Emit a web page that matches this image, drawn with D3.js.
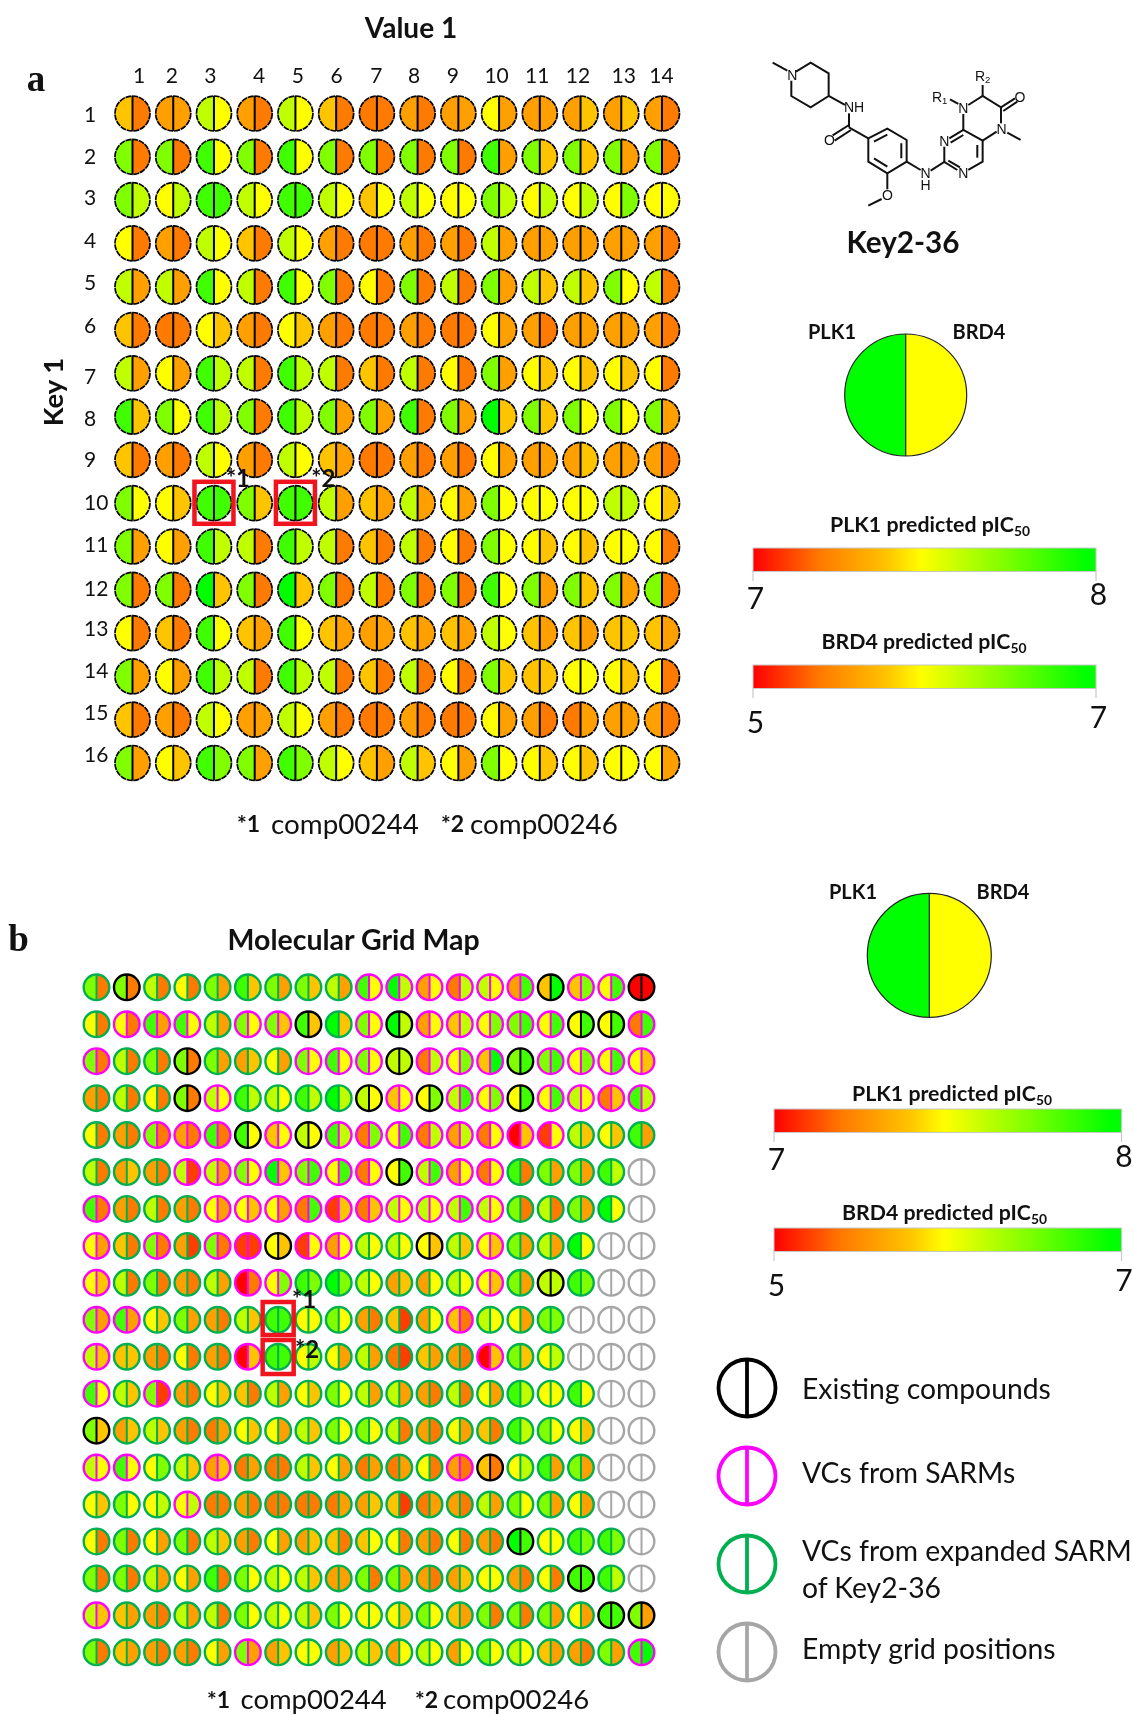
<!DOCTYPE html>
<html><head><meta charset="utf-8">
<script src="https://cdn.jsdelivr.net/npm/d3@7/dist/d3.min.js"></script>
<style>
html,body{margin:0;padding:0;background:#fff}
svg{display:block;filter:blur(0.45px)}
text{font-family:Lato,"Open Sans",sans-serif;fill:#111}
</style></head><body>
<svg id="c" width="1132" height="1716"></svg>
<script>
// colour levels: 0 = lowest predicted pIC50 (red), 5 = middle (yellow), 9 = highest (green)
const columnsA=["1","2","3","4","5","6","7","8","9","10","11","12","13","14"];
const rowsA=["1","2","3","4","5","6","7","8","9","10","11","12","13","14","15","16"];
const plk1A=["43636423353333","77878777787777","75868646575555","53646323363333","66868757676676","42535323253333","65868646575555","87878778797777","43636423353333","75878646575565","75868646575555","77979767787777","54848434464444","75868646574555","43636323253233","75878646575555"];
const brd4A=["23525222333442","22525222234432","66858555566675","22525222233332","33525222234452","22424222232332","33626222234442","45626332344553","22525322233432","54848333355564","33626222254452","22424222253432","22535333353343","33626222244542","22535222232332","34737534354453"];
const highlightA=[{row:9,col:2,mark:"*1",dx:24},{row:9,col:4,mark:"*2",dx:28}];

const plk1B=["7765787768932634450","5588677897934575552","7677735787625477555","3657686896456555628","5373884682523201658","633667975256328778-","836355521266667679-","54737151366565769--","56736058963365768--","7857368573434657---","6435308556243075---","86735465766365858--","73632556776354875--","68563226522534587--","57552322234236775--","575763534453539588-","776587663773353588-","6436676675574777587","7433573536363764378"];
const brd4B=["2222343435656589780","2235354445656788888","2222343555667988784","2222565665578788546","2222255567866545443","242135488588552336-","222234384455852235-","32212145555444335--","42223277754554367--","3343248552152537---","4422248633132446---","54124234533223655--","44423434552232654--","55744324333222633--","45662222341323533--","223242342522228577-","223325543232452286-","4323255455453223383","2322334544555553239"];
const kindB=["GEGGGGGGGMMMMMMEMME","GMMMGMMEGMEMMMMMEEM","MGGEGGGMMMEMMMEMMMM","GGGEMGGGGEMEMMEMMMM","GGMMMEMEMMMMMMMMGGG","GGGMMMMMMMEMMMGGGGX","MGGGMMMMMMMMMMGGGGX","MGMGMMEMMGGEGMGGGXX","MGGGGMMGGGGGGMGEGXX","MMGGGGGGGGGGMGGGXXX","MGGGGMGGGGGGGMGGXXX","MGMGGGGGGGGGGGGGGXX","EGGGGGGGGGGGGGGGGXX","MMGGMGGGGGGGMEGGGXX","GGGMGGGGGGGGGGGGGXX","GGGGGGGGGGGGGGEGGGX","GGGGGGGGGGGGGGGGEGX","MGGGGGGGGGGGGGGGGEE","GGGGGMGGGGGGGGGGGGM"];
const legendKinds=["E","M","G","X"];
const colourBars=[{name:"PLK1",ticks:["7","8"]},{name:"BRD4",ticks:["5","7"]}];
const kindColour={E:"#000",M:"#ff00ff",G:"#00b050",X:"#a6a6a6"};

const colour=d3.scaleLinear().domain([0,2,4,5,9]).range(["#ff0000","#ff7a00","#ffc400","#ffff00","#00ff00"]);
const levelOffset=d3.scaleLinear().domain([0,5,9]).range([0,0.49,0.97]);
const svg=d3.select("#c");
const halfL=r=>d3.arc()({innerRadius:0,outerRadius:r,startAngle:-Math.PI,endAngle:0});
const halfR=r=>d3.arc()({innerRadius:0,outerRadius:r,startAngle:0,endAngle:Math.PI});
function txt(x,y,s,size,opt={}){
  const t=svg.append("text").attr("x",x).attr("y",y).attr("dominant-baseline","central")
    .attr("font-size",size).attr("font-weight",opt.bold?700:400).attr("text-anchor",opt.anchor||"middle").text(s);
  if(opt.serif)t.style("font-family","'Liberation Serif',serif");
  if(opt.rotate)t.attr("transform",`rotate(${opt.rotate} ${x} ${y})`);
  return t;
}
function drawGrid(L,R,kind,x,y,r,sw,lw){
  const g=svg.append("g");
  L.forEach((row,i)=>{[...row].forEach((v,j)=>{
    const k=kind?kind[i][j]:"E";
    const c=g.append("g").attr("transform",`translate(${x(j)},${y(i)})`);
    const empty=v==="-";
    c.append("path").attr("d",halfL(r)).attr("fill",empty?"#fff":colour(+v));
    c.append("path").attr("d",halfR(r)).attr("fill",empty?"#fff":colour(+R[i][j]));
    const ring=c.append("circle").attr("r",r).attr("fill","none").attr("stroke",kindColour[k]).attr("stroke-width",sw);
    if(!kind)ring.attr("stroke-dasharray","6 0.8");
    c.append("line").attr("y1",-r).attr("y2",r).attr("stroke",kindColour[k]).attr("stroke-width",lw);
  });});
}
function sub(x,y,name,size){
  const t=txt(x,y,name+" predicted pIC",size,{bold:true});
  t.append("tspan").attr("font-size",size*0.65).attr("dy",size*0.3).text("50");
}
function legendBlock(o){
  const g=svg.append("g").attr("transform",`translate(${o.cx},${o.cy})`);
  g.append("path").attr("d",halfL(o.r)).attr("fill",colour(9));
  g.append("path").attr("d",halfR(o.r)).attr("fill",colour(5));
  g.append("circle").attr("r",o.r).attr("fill","none").attr("stroke","#222").attr("stroke-width",1.2);
  g.append("line").attr("y1",-o.r).attr("y2",o.r).attr("stroke","#222").attr("stroke-width",1.2);
  txt(o.lx,o.ly,"PLK1",20,{bold:true});
  txt(o.rx,o.ly,"BRD4",20,{bold:true});
  colourBars.forEach((b,i)=>{
    const m=o.bars[i];
    sub(m.tx,m.ty,b.name,21.3);
    const s=d3.scaleLinear().domain([0,1]).range(o.xr);
    svg.append("rect").attr("x",s(0)).attr("y",m.top).attr("width",s(1)-s(0)).attr("height",23.5)
      .attr("fill","url(#grad)").attr("stroke","#c8c8c8").attr("stroke-width",1);
    [0,1].forEach(q=>svg.append("line").attr("x1",s(q)).attr("x2",s(q)).attr("y1",m.top+23.5).attr("y2",m.top+33).attr("stroke","#c8c8c8").attr("stroke-width",1.2));
    txt(s(0)+2.5,m.l[0],b.ticks[0],30);
    txt(s(1)+2.5,m.l[1],b.ticks[1],30);
  });
}
const grad=svg.append("defs").append("linearGradient").attr("id","grad");
d3.range(0,10).forEach(v=>grad.append("stop").attr("offset",levelOffset(v)).attr("stop-color",colour(v)));
grad.append("stop").attr("offset",1).attr("stop-color",colour(9));

// Panel a
const xA=d3.scaleLinear().domain([0,13]).range([132.5,662]);
const yA=d3.scaleLinear().domain([0,15]).range([113.5,763]);
txt(411,27,"Value 1",28,{bold:true});
txt(36,78,"a",37,{bold:true,serif:true});
txt(52,392,"Key 1",27.5,{bold:true,rotate:-90});
const colNudge=[6,-2,-4,4,2,0,-1,-4,-6,-3,-3,-3,2,-1];
const axisTopA=d3.axisTop(d3.scalePoint().domain(columnsA).range([xA(0),xA(13)])).tickSize(0).tickPadding(0);
const gTop=svg.append("g").attr("transform","translate(0,74)").call(axisTopA);
gTop.select(".domain").remove();
gTop.selectAll("text").attr("font-size",21).attr("dy",0).attr("dominant-baseline","central").attr("fill","#111")
  .style("font-family","Lato").attr("dx",(d,i)=>colNudge[i]);
const rowLabelY=[113,155,196,239,281,324,375,417,458,501,543,587,627,669,711,753];
rowsA.forEach((s,i)=>txt(84,rowLabelY[i],s,21,{anchor:"start"}));
drawGrid(plk1A,brd4A,null,xA,yA,17.5,1.7,2);
highlightA.forEach(h=>{
  svg.append("rect").attr("x",xA(h.col)-19.5).attr("y",yA(h.row)-21.4).attr("width",39).attr("height",42)
    .attr("fill","none").attr("stroke","#f0141e").attr("stroke-width",4.5);
  txt(xA(h.col)+h.dx,477,h.mark,24,{bold:true});
});
function caption(x1,x2,x3,x4,y,sz){
  txt(x1,y,"*1",23,{bold:true,anchor:"start"});
  txt(x2,y,"comp00244",sz,{anchor:"start"});
  txt(x3,y,"*2",23,{bold:true,anchor:"start"});
  txt(x4,y,"comp00246",sz,{anchor:"start"});
}
caption(237,271,441,470,823,27.8);

// Molecule (decorative structure diagram)
const mol=svg.append("g").attr("transform","translate(700,30) scale(0.3333)")
  .attr("fill","none").attr("stroke","#111").attr("stroke-width",6);
const bonds=["M218 98L262 122","M288 125L332 98L386 130V198L332 232L274 198V152","M386 198L435 225","M447 250V292","M447 285L398 316M453 300L404 332","M447 292L505 325L562 296L620 330V395L562 430L505 395V325","M522 335L562 314M604 340V385M522 385L562 410","M620 395L662 420","M692 422L733 396L772 420M745 392L780 412","M733 396V350","M805 420L848 395V332L790 300L748 325M790 315L752 338","M832 345V383","M848 332L890 305","M790 300V252","M805 225L848 198L903 232L945 205M910 243L952 215","M848 198V165","M750 208L775 222","M903 232V280","M922 308L962 330","M562 430V478","M545 507L505 527"];
bonds.forEach(d=>mol.append("path").attr("d",d));
[["N",277,135],["NH",462,232],["O",388,330],["N",733,332],["N",790,430],["N",790,235],["N",905,297],["O",960,200],["O",562,495]].forEach(a=>{
  svg.append("text").attr("x",700+a[1]/3).attr("y",30+a[2]/3).attr("text-anchor","middle").attr("dominant-baseline","central")
    .attr("font-size",14).style("font-family","'Liberation Sans'").text(a[0]);
});
const nh=svg.append("text").attr("text-anchor","middle").attr("font-size",14).style("font-family","'Liberation Sans'");
nh.append("tspan").attr("x",700+677/3).attr("y",178).text("N");
nh.append("tspan").attr("x",700+677/3).attr("y",190).text("H");
[["R",1,719,202],["R",2,848,137]].forEach(a=>{
  const t=svg.append("text").attr("x",700+a[2]/3).attr("y",30+a[3]/3).attr("text-anchor","middle").attr("dominant-baseline","central")
    .attr("font-size",14).style("font-family","'Liberation Sans'").text(a[0]);
  t.append("tspan").attr("font-size",9.5).attr("dy",3).text(a[1]);
});
txt(903,241,"Key2-36",29.7,{bold:true});
legendBlock({cx:905.7,cy:395,r:61,lx:832,rx:979,ly:331,xr:[753,1096],
  bars:[{tx:930,ty:524,top:548,l:[597,593]},{tx:924,ty:641,top:665,l:[721,716]}]});

// Panel b
const xB=d3.scaleLinear().domain([0,18]).range([96.5,641.5]);
const yB=d3.scaleLinear().domain([0,18]).range([987.3,1652.3]);
txt(353.6,939,"Molecular Grid Map",28.5,{bold:true});
txt(18.6,938,"b",37,{bold:true,serif:true});
drawGrid(plk1B,brd4B,kindB,xB,yB,12.8,2.4,2);
[[1302,33,"*1",304,1298],[1340,34,"*2",307,1348]].forEach(h=>{
  svg.append("rect").attr("x",xB(6)-15.5).attr("y",h[0]).attr("width",31).attr("height",h[1])
    .attr("fill","none").attr("stroke","#f0141e").attr("stroke-width",4.5);
  txt(h[3],h[4],h[2],24,{bold:true});
});
caption(207,240.5,415,443,1698.5,27.5);
legendBlock({cx:929.3,cy:955.3,r:62,lx:853,rx:1003,ly:890.5,xr:[774,1121.5],
  bars:[{tx:952,ty:1093,top:1109,l:[1158,1155]},{tx:944.5,ty:1212,top:1228,l:[1284,1279]}]});

// Kind legend
const legY=d3.scalePoint().domain(legendKinds).range([1388,1652]);
legendKinds.forEach(k=>{
  const g=svg.append("g").attr("transform",`translate(747,${legY(k)})`);
  g.append("circle").attr("r",28.5).attr("fill","none").attr("stroke",kindColour[k]).attr("stroke-width",3.8);
  g.append("line").attr("y1",-28.5).attr("y2",28.5).attr("stroke",kindColour[k]).attr("stroke-width",3.8);
});
txt(802,1388,"Existing compounds",28.3,{anchor:"start"});
txt(802,1472,"VCs from SARMs",28.3,{anchor:"start"});
txt(802,1550,"VCs from expanded SARM",28.3,{anchor:"start"});
txt(802,1587,"of Key2-36",28.3,{anchor:"start"});
txt(802,1648,"Empty grid positions",28.3,{anchor:"start"});
</script>
</body></html>
